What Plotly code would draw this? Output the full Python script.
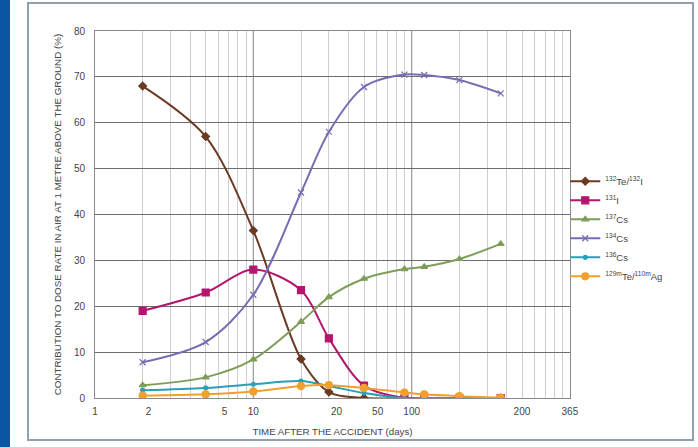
import plotly.graph_objects as go

# ---- data ----
days = [2, 5, 10, 20, 30, 50, 90, 120, 200, 365]
te132_i132 = [68.0, 57.0, 36.5, 8.5, 1.3, 0.0, 0.0, 0.0, 0.0, 0.0]
i131 = [19.0, 23.0, 28.0, 23.5, 13.0, 2.7, 0.0, 0.0, 0.0, 0.0]
cs137 = [2.8, 4.5, 8.4, 16.6, 22.0, 26.0, 28.1, 28.6, 30.3, 33.6]
cs134 = [7.8, 12.2, 22.5, 44.8, 58.0, 67.8, 70.5, 70.4, 69.3, 66.4]
cs136 = [1.7, 2.2, 3.0, 3.7, 2.6, 1.1, 0.0, 0.0, 0.0, 0.0]
te129m_ag110m = [0.5, 0.8, 1.4, 2.6, 2.8, 2.2, 1.2, 0.8, 0.4, 0.1]

series_names = ["<sup>132</sup>Te/<sup>132</sup>I", "<sup>131</sup>I", "<sup>137</sup>Cs",
                "<sup>134</sup>Cs", "<sup>136</sup>Cs", "<sup>129m</sup>Te/<sup>110m</sup>Ag"]
series_values = [te132_i132, i131, cs137, cs134, cs136, te129m_ag110m]

x_tick_labels = ["1", "2", "5", "10", "20", "50", "100", "200", "365"]
x_tick_label_at = [1, 2.18, 6.58, 10, 33.5, 61, 100, 497, 998]
y_tick_values = [0, 10, 20, 30, 40, 50, 60, 70, 80]

# ---- styles ----
colors = ["#6b3a24", "#b3166c", "#7f9d58", "#7a6cb3", "#2a9fb6", "#f0a02c"]
symbols = ["diamond", "square", "triangle-up", "x-thin", "circle", "circle"]
msizes = [6, 7, 6, 6, 4, 7]

fig = go.Figure()
for name, vals, c, s, ms in zip(series_names, series_values, colors, symbols, msizes):
    fig.add_trace(go.Scatter(
        x=days, y=vals, name=name, mode="lines+markers",
        line=dict(color=c, width=2, shape="spline", smoothing=0.9),
        marker=dict(color=c, symbol=s, size=ms, line=dict(color=c, width=1.2)),
    ))

grid_minor = [m * 10 ** k for k in range(0, 3) for m in range(2, 10)]

fig.update_layout(
    width=698, height=447,
    margin=dict(l=95, r=128, t=31, b=49, autoexpand=False),
    paper_bgcolor="white", plot_bgcolor="white",
    font=dict(family="Liberation Sans, Arial, sans-serif", size=10, color="#444"),
    showlegend=True,
    legend=dict(x=0.99, xanchor="left", y=0.63, yanchor="top",
                font=dict(size=9.5, color="#444"), bgcolor="rgba(0,0,0,0)",
                tracegroupgap=0, itemwidth=30),
    xaxis=dict(
        type="log", range=[0, 3], automargin=False,
        tickmode="array", tickvals=x_tick_label_at, ticktext=x_tick_labels,
        showgrid=False, ticks="", ticklabelstandoff=4,
        tickfont=dict(size=10, color="#444"),
        showline=True, mirror=True, linecolor="#8a8a8a", linewidth=1,
        minor=dict(tickmode="array", tickvals=grid_minor, showgrid=True,
                   gridcolor="#cfcfcf", gridwidth=1, ticks=""),
        title=dict(text="TIME AFTER THE ACCIDENT (days)", standoff=12,
                   font=dict(size=9.7, color="#444")),
        zeroline=False,
    ),
    yaxis=dict(
        range=[0, 80], tickmode="array", tickvals=y_tick_values, automargin=False,
        showgrid=True, gridcolor="#6e6e6e", gridwidth=1,
        ticks="", ticklabelstandoff=7, tickfont=dict(size=10, color="#444"),
        showline=True, mirror=True, linecolor="#8a8a8a", linewidth=1,
        zeroline=False,
        title=dict(text="CONTRIBUTION TO DOSE RATE IN AIR AT 1 METRE ABOVE THE GROUND (%)",
                   standoff=10, font=dict(size=9.8, color="#444")),
    ),
)

# darker decade lines
for xv in [10, 100]:
    fig.add_shape(type="line", xref="x", yref="paper", x0=xv, x1=xv, y0=0, y1=1,
                  line=dict(color="#9a9a9a", width=1.2), layer="below")

# blue strip on the left and panel frame
fig.add_shape(type="rect", xref="paper", yref="paper",
              x0=-95 / 475, x1=-85 / 475, y0=-49 / 367, y1=(367 + 31) / 367,
              fillcolor="#0b56a3", line=dict(width=0), layer="below")
fig.add_shape(type="rect", xref="paper", yref="paper",
              x0=-67 / 475, x1=598 / 475, y0=-42 / 367, y1=(367 + 28) / 367,
              fillcolor="rgba(0,0,0,0)", line=dict(color="#8fa1b0", width=2))

fig.write_html("out.html", config={"displayModeBar": False},
               post_script="document.body.style.margin='0';document.body.style.overflow='hidden';")
